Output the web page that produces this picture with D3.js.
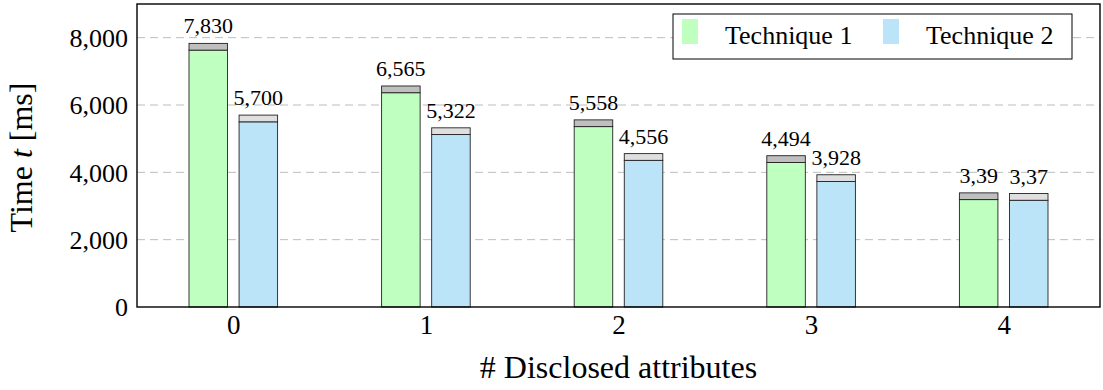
<!DOCTYPE html>
<html>
<head>
<meta charset="utf-8">
<script src="https://cdn.jsdelivr.net/npm/d3@7"></script>
<style>
  html, body { margin: 0; padding: 0; background: #fff; }
</style>
</head>
<body>
<svg id="chart" width="1103" height="390"></svg>
<script>
// Number of disclosed attributes
const categories = [0, 1, 2, 3, 4];

// Total time per run [ms]
const technique1Total = [7830, 6565, 5558, 4494, 3390];
const technique2Total = [5700, 5322, 4556, 3928, 3370];

// Overhead part stacked on top of each bar [ms]
const technique1Overhead = [200, 200, 200, 200, 200];
const technique2Overhead = [200, 200, 200, 200, 200];

// Value labels printed above the bars
const technique1Labels = ["7,830", "6,565", "5,558", "4,494", "3,39"];
const technique2Labels = ["5,700", "5,322", "4,556", "3,928", "3,37"];

const yTicks = [0, 2000, 4000, 6000, 8000];
const seriesNames = ["Technique 1", "Technique 2"];

const FONT = "'Liberation Serif', 'DejaVu Serif', 'Times New Roman', serif";

const svg = d3.select("#chart");
const margin = { left: 137, right: 3, top: 4, bottom: 83 };
const W = 1103, H = 390;
const plotW = W - margin.left - margin.right;
const plotH = H - margin.top - margin.bottom;

const x = d3.scaleLinear().domain([-0.5, 4.5]).range([0, plotW]);
const y = d3.scaleLinear().domain([0, 9000]).range([plotH, 0]);

const g = svg.append("g").attr("transform", `translate(${margin.left},${margin.top})`);

// Dashed horizontal grid
g.append("g")
  .selectAll("line")
  .data(yTicks.filter(d => d > 0))
  .join("line")
  .attr("x1", 0).attr("x2", plotW)
  .attr("y1", d => y(d)).attr("y2", d => y(d))
  .attr("stroke", "#bdbdbd")
  .attr("stroke-width", 1)
  .attr("stroke-dasharray", "8,5");

const barW = x(0.2) - x(0);
const offset = x(0.13) - x(0);

const series = [
  { total: technique1Total, over: technique1Overhead, labels: technique1Labels,
    fill: "#bfffbf", topFill: "#bfbfbf", dx: -offset },
  { total: technique2Total, over: technique2Overhead, labels: technique2Labels,
    fill: "#bbe4f9", topFill: "#dfdfdf", dx: offset }
];

series.forEach(s => {
  const rows = categories.map((c, i) => ({
    c, total: s.total[i], base: s.total[i] - s.over[i], label: s.labels[i]
  }));
  const sg = g.append("g");
  // base segment
  sg.selectAll("rect.base").data(rows).join("rect")
    .attr("class", "base")
    .attr("x", d => x(d.c) + s.dx - barW / 2)
    .attr("width", barW)
    .attr("y", d => y(d.base))
    .attr("height", d => y(0) - y(d.base))
    .attr("fill", s.fill)
    .attr("stroke", "#222")
    .attr("stroke-width", 0.9);
  // overhead segment on top
  sg.selectAll("rect.top").data(rows).join("rect")
    .attr("class", "top")
    .attr("x", d => x(d.c) + s.dx - barW / 2)
    .attr("width", barW)
    .attr("y", d => y(d.total))
    .attr("height", d => y(d.base) - y(d.total))
    .attr("fill", s.topFill)
    .attr("stroke", "#222")
    .attr("stroke-width", 0.9);
  // value labels
  sg.selectAll("text").data(rows).join("text")
    .attr("x", d => x(d.c) + s.dx)
    .attr("y", d => y(d.total) - 10)
    .attr("text-anchor", "middle")
    .style("font-family", FONT)
    .style("font-size", "22px")
    .text(d => d.label);
});

// Axes
const fmt = d3.format(",");
const yAxis = d3.axisLeft(y).tickValues(yTicks).tickFormat(fmt).tickSize(0).tickPadding(9);
const yg = g.append("g").call(yAxis);
yg.select(".domain").remove();
yg.selectAll("text")
  .style("font-family", FONT).style("font-size", "26px").style("fill", "#000")
  .attr("dy", "0.34em");

const xAxis = d3.axisBottom(x).tickValues(categories).tickFormat(d3.format("d")).tickSize(0).tickPadding(8);
const xg = g.append("g").attr("transform", `translate(0,${plotH})`).call(xAxis);
xg.select(".domain").remove();
xg.selectAll("text")
  .style("font-family", FONT).style("font-size", "27px").style("fill", "#000")
  .attr("dy", "0.71em");

// Frame
g.append("rect")
  .attr("x", 0).attr("y", 0).attr("width", plotW).attr("height", plotH)
  .attr("fill", "none").attr("stroke", "#000").attr("stroke-width", 1.4);

// Axis titles
svg.append("text")
  .attr("x", margin.left + plotW / 2)
  .attr("y", 378)
  .attr("text-anchor", "middle")
  .style("font-family", FONT)
  .style("font-size", "32px")
  .text("# Disclosed attributes");

const yt = svg.append("text")
  .attr("transform", `translate(32,${margin.top + plotH / 2 + 2}) rotate(-90)`)
  .attr("text-anchor", "middle")
  .style("font-family", FONT)
  .style("font-size", "32px");
yt.append("tspan").text("Time ");
yt.append("tspan").style("font-style", "italic").text("t");
yt.append("tspan").text(" [ms]");

// Legend
const leg = svg.append("g");
leg.append("rect")
  .attr("x", 673).attr("y", 14).attr("width", 399).attr("height", 45)
  .attr("fill", "#fff").attr("stroke", "#000").attr("stroke-width", 1);
const legX = [682, 883];
seriesNames.forEach((name, i) => {
  leg.append("rect")
    .attr("x", legX[i]).attr("y", 19).attr("width", 16).attr("height", 25)
    .attr("fill", series[i].fill);
  leg.append("text")
    .attr("x", legX[i] + 43).attr("y", 44)
    .style("font-family", FONT)
    .style("font-size", "26px")
    .text(name);
});
</script>
</body>
</html>
